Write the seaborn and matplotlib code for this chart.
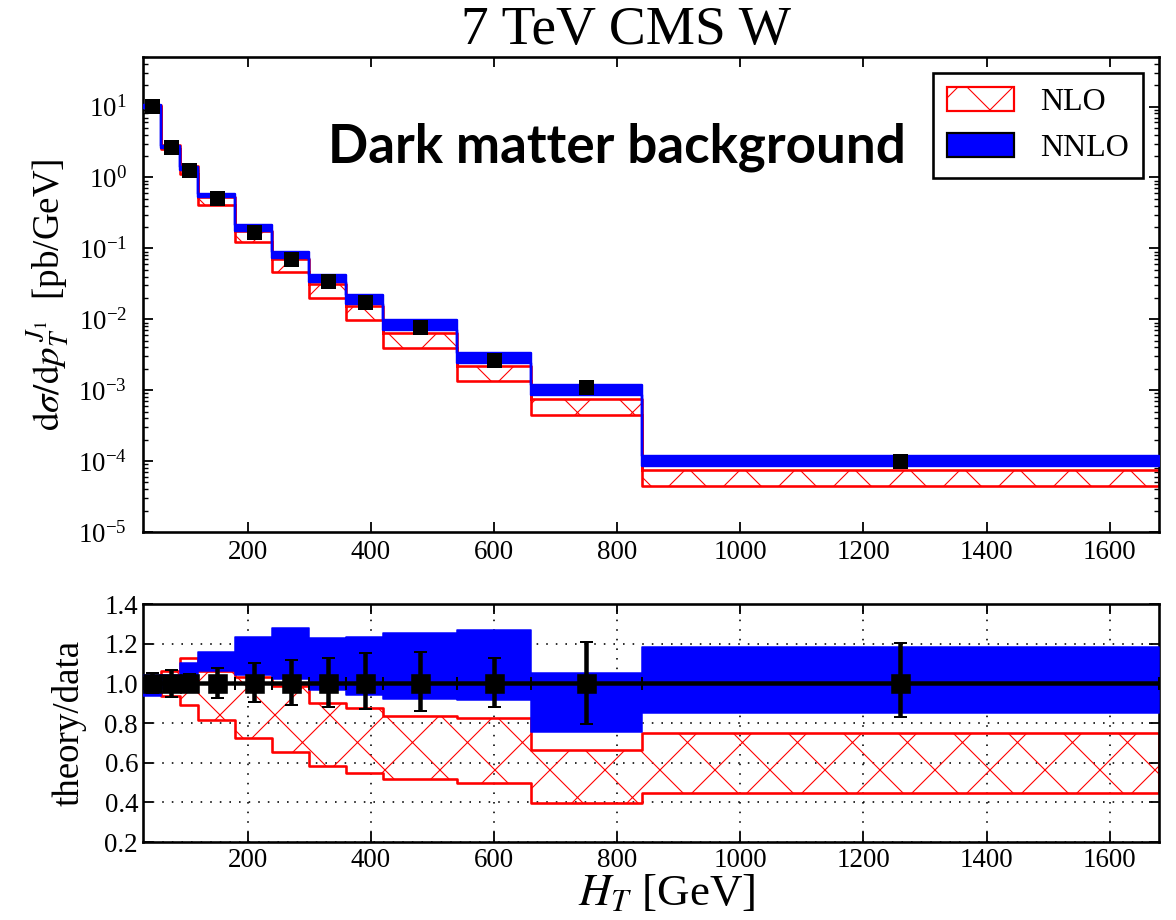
import matplotlib
matplotlib.use("Agg")
import matplotlib.pyplot as plt
from matplotlib.patches import Patch
from matplotlib.ticker import FixedLocator, LogLocator, NullFormatter, FormatStrFormatter
import seaborn as sns

# ---- binning and measured cross sections -------------------------------
bin_edges = [30, 60, 90, 120, 180, 240, 300, 360, 420, 540, 660, 840, 1680]
data_xsec = [10.2, 2.70, 1.27, 0.506, 0.171, 0.0707, 0.0346, 0.0177,
             0.0077, 0.00267, 0.00112, 1.0e-4]           # pb/GeV
# relative data uncertainty (down / up)
data_err_dn = [0.050, 0.067, 0.045, 0.076, 0.093, 0.109, 0.121, 0.131,
               0.140, 0.121, 0.207, 0.168]
data_err_up = [0.050, 0.067, 0.045, 0.079, 0.101, 0.118, 0.126, 0.151,
               0.159, 0.126, 0.210, 0.205]

# theory / data scale-variation envelopes
nlo_lo = [0.960, 0.936, 0.891, 0.815, 0.723, 0.655, 0.583, 0.546,
          0.518, 0.499, 0.395, 0.445]
nlo_hi = [1.030, 1.062, 1.126, 1.060, 1.030, 0.987, 0.902, 0.874,
          0.835, 0.826, 0.664, 0.748]
nnlo_lo = [0.936, 0.970, 0.990, 1.060, 1.040, 1.024, 0.966, 0.941,
           0.919, 0.916, 0.756, 0.852]
nnlo_hi = [1.040, 1.040, 1.104, 1.159, 1.232, 1.277, 1.227, 1.232,
           1.255, 1.269, 1.051, 1.185]

DPI = 330


def px(v):
    """pixels -> points at the output resolution"""
    return v * 72.0 / DPI


centers = [(a + b) / 2 for a, b in zip(bin_edges[:-1], bin_edges[1:])]
halfw = [(b - a) / 2 for a, b in zip(bin_edges[:-1], bin_edges[1:])]


def stepped(vals):
    return list(vals) + [vals[-1]]


sns.set_style("ticks")
plt.rcParams.update({
    "font.family": ["Liberation Serif", "DejaVu Serif"],
    "mathtext.fontset": "stix",
    "text.color": "black",
    "axes.labelcolor": "black",
    "hatch.linewidth": px(1.1),
    "axes.linewidth": px(2.6),
    "axes.edgecolor": "black",
    "xtick.direction": "in", "ytick.direction": "in",
    "xtick.top": True, "ytick.right": True,
    "xtick.major.size": px(10), "ytick.major.size": px(10),
    "xtick.minor.size": px(5), "ytick.minor.size": px(5),
    "xtick.major.width": px(1.8), "ytick.major.width": px(1.8),
    "xtick.minor.width": px(1.4), "ytick.minor.width": px(1.4),
    "xtick.color": "black", "ytick.color": "black",
    "xtick.labelcolor": "black", "ytick.labelcolor": "black",
    "font.size": px(27),
})

fig = plt.figure(figsize=(1176 / DPI, 920 / DPI), dpi=DPI)
L, R = 143, 1159
ax1 = fig.add_axes([L / 1176, 1 - 532 / 920, (R - L) / 1176, (532 - 57) / 920])
ax2 = fig.add_axes([L / 1176, 1 - 842 / 920, (R - L) / 1176, (842 - 604) / 920])

nlo_abs_lo = [d * r for d, r in zip(data_xsec, nlo_lo)]
nlo_abs_hi = [d * r for d, r in zip(data_xsec, nlo_hi)]
nnlo_abs_lo = [d * r for d, r in zip(data_xsec, nnlo_lo)]
nnlo_abs_hi = [d * r for d, r in zip(data_xsec, nnlo_hi)]

red = "#ff0000"
blue = "#0000ff"
HATCH = "xx"

# ---- upper panel: absolute distribution ---------------------------------
ax1.fill_between(bin_edges, stepped(nlo_abs_lo), stepped(nlo_abs_hi), step="post",
                 facecolor="none", edgecolor=red, hatch=HATCH, linewidth=px(2.6), zorder=2)
ax1.fill_between(bin_edges, stepped(nnlo_abs_lo), stepped(nnlo_abs_hi), step="post",
                 facecolor=blue, edgecolor=blue, linewidth=px(2.4), zorder=3)
sns.scatterplot(x=centers, y=data_xsec, marker="s", s=px(15) ** 2, color="black",
                edgecolor="black", linewidth=0, ax=ax1, zorder=5, legend=False)

ax1.set_yscale("log")
ax1.set_xlim(30, 1680)
ax1.set_ylim(1e-5, 50)
ax1.xaxis.set_major_locator(FixedLocator([200, 400, 600, 800, 1000, 1200, 1400, 1600]))
ax1.yaxis.set_major_locator(LogLocator(base=10, numticks=12))
ax1.yaxis.set_minor_locator(LogLocator(base=10, subs=range(2, 10), numticks=12))
ax1.yaxis.set_minor_formatter(NullFormatter())
ax1.tick_params(axis="x", which="both", pad=px(8), labelsize=px(27))
ax1.tick_params(axis="y", which="both", pad=px(16), labelsize=px(27))
ax1.set_ylabel(r"$\mathrm{d}\sigma/\mathrm{d}p_T^{\,J_1}$  [pb/GeV]", fontsize=px(37))
ax1.yaxis.set_label_coords((72 - L) / (R - L), 0.5)

ax1.text((617 - L) / (R - L), 1 - (147 - 57) / 475, "Dark matter background",
         transform=ax1.transAxes, ha="center", va="center", color="black",
         fontsize=px(53), fontweight="bold", family=["Lato", "DejaVu Sans"])

fig.text(626 / 1176, 1 - 31 / 920, "7 TeV CMS W", ha="center", va="center",
         fontsize=px(55.5), color="black")

handles = [Patch(facecolor="white", edgecolor=red, hatch=HATCH, linewidth=px(2.2)),
           Patch(facecolor=blue, edgecolor="black", linewidth=px(2.2))]
leg = ax1.legend(handles, ["NLO", "NNLO"], loc="upper right", fontsize=px(32),
                 frameon=True, fancybox=False, edgecolor="black", framealpha=1,
                 handlelength=2.1, handleheight=0.75, handletextpad=0.8,
                 borderpad=0.45, labelspacing=0.5, borderaxespad=0.5)
leg.get_frame().set_linewidth(px(2.6))

# ---- lower panel: theory / data ----------------------------------------
ax2.fill_between(bin_edges, stepped(nlo_lo), stepped(nlo_hi), step="post",
                 facecolor="none", edgecolor=red, hatch=HATCH, linewidth=px(2.6), zorder=2)
ax2.fill_between(bin_edges, stepped(nnlo_lo), stepped(nnlo_hi), step="post",
                 facecolor=blue, edgecolor=blue, linewidth=px(1.5), zorder=3)
ones = [1.0] * len(centers)
ax2.errorbar(centers, ones, xerr=halfw, yerr=[data_err_dn, data_err_up], fmt="s",
             color="black", ms=px(15), elinewidth=px(4.5), capsize=px(6.5),
             capthick=px(2), zorder=5)

ax2.set_xlim(30, 1680)
ax2.set_ylim(0.2, 1.4)
ax2.xaxis.set_major_locator(FixedLocator([200, 400, 600, 800, 1000, 1200, 1400, 1600]))
ax2.yaxis.set_major_locator(FixedLocator([0.2, 0.4, 0.6, 0.8, 1.0, 1.2, 1.4]))
ax2.yaxis.set_major_formatter(FormatStrFormatter("%.1f"))
ax2.grid(True, color="black", linestyle=(0, (1, 5)), linewidth=px(1.6))
ax2.tick_params(axis="x", which="both", pad=px(6), labelsize=px(27))
ax2.tick_params(axis="y", which="both", pad=px(5), labelsize=px(27))
ax2.set_ylabel("theory/data", fontsize=px(37))
ax2.yaxis.set_label_coords((87 - L) / (R - L), 0.5)
ax2.set_xlabel(r"$H_T$ [GeV]", fontsize=px(45))
ax2.xaxis.set_label_coords((667 - L) / (R - L), (842 - 873) / 238)

fig.savefig("out.png", dpi=DPI)
